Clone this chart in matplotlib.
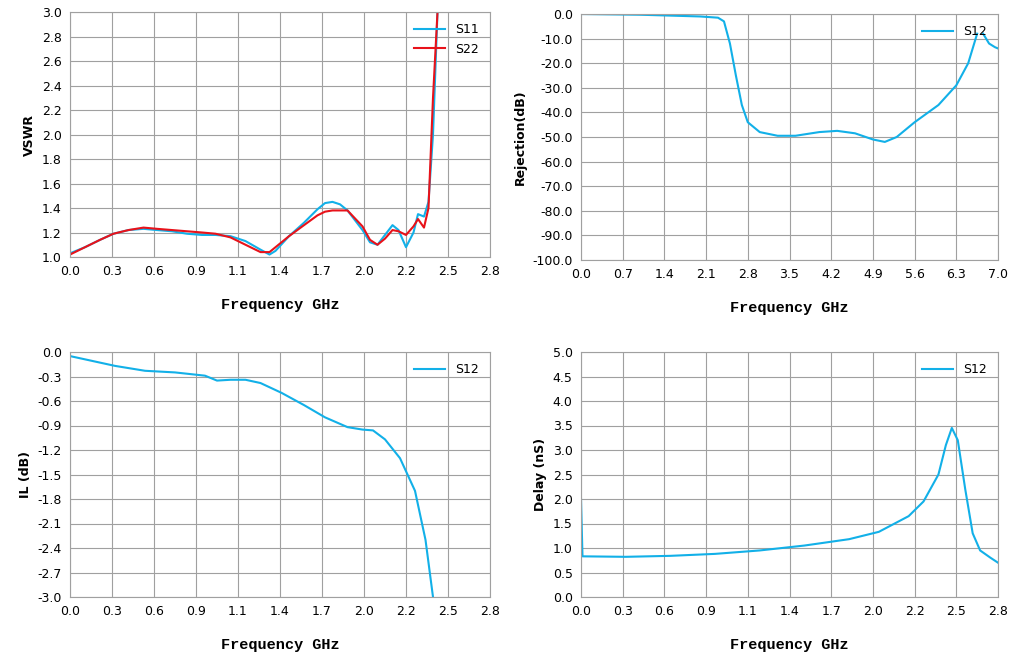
import numpy as np
import matplotlib
matplotlib.use("Agg")
import matplotlib.pyplot as plt

# VSWR
f_vswr = [0, 0.1, 0.2, 0.29, 0.39, 0.49, 0.58, 0.68, 0.78, 0.88, 0.97, 1.07, 1.17, 1.27, 1.33, 1.37, 1.46, 1.56,
          1.65, 1.7, 1.75, 1.8, 1.85, 1.95, 2.0, 2.05, 2.1, 2.15, 2.19, 2.24, 2.29, 2.32, 2.36, 2.39, 2.42, 2.45]
s11 = [1.03, 1.08, 1.14, 1.19, 1.22, 1.23, 1.22, 1.21, 1.19, 1.18, 1.18, 1.17, 1.13, 1.06, 1.02, 1.05, 1.17, 1.28,
       1.39, 1.44, 1.45, 1.43, 1.38, 1.22, 1.12, 1.10, 1.18, 1.26, 1.22, 1.08, 1.20, 1.35, 1.33, 1.45, 2.0, 3.0]
s22 = [1.02, 1.08, 1.14, 1.19, 1.22, 1.24, 1.23, 1.22, 1.21, 1.20, 1.19, 1.16, 1.10, 1.04, 1.04, 1.08, 1.17, 1.26,
       1.34, 1.37, 1.38, 1.38, 1.38, 1.25, 1.14, 1.10, 1.15, 1.22, 1.21, 1.18, 1.25, 1.31, 1.24, 1.40, 2.3, 3.0]

# Rejection
f_rej = [0, 1.0, 2.0, 2.3, 2.4, 2.5, 2.6, 2.7, 2.8, 3.0, 3.3, 3.6, 4.0, 4.3, 4.6, 4.9, 5.1, 5.3, 5.6, 6.0, 6.3,
         6.5, 6.6, 6.65]
rej = [0, -0.3, -1, -1.5, -3, -12, -25, -37, -44, -48, -49.5, -49.5, -48, -47.5, -48.5, -51, -52, -50, -44, -37,
       -29, -20, -12, -8]
f_rej2 = [6.75, 6.85, 6.95, 7.0]
rej2 = [-8, -12, -13.5, -14]

# Insertion loss
f_il = [0, 0.3, 0.5, 0.7, 0.9, 0.98, 1.07, 1.17, 1.27, 1.41, 1.56, 1.7, 1.85, 1.95, 2.02, 2.1, 2.2, 2.3, 2.37, 2.42]
il = [-0.05, -0.17, -0.23, -0.25, -0.29, -0.35, -0.34, -0.34, -0.38, -0.5, -0.65, -0.8, -0.92, -0.95, -0.96,
      -1.07, -1.3, -1.7, -2.3, -3.0]

# Group delay
f_dl = [0, 0.01, 0.3, 0.6, 0.9, 1.2, 1.5, 1.8, 2.0, 2.2, 2.3, 2.4, 2.45, 2.49, 2.53, 2.58, 2.63, 2.68, 2.75, 2.8]
delay = [2.0, 0.83, 0.82, 0.84, 0.88, 0.95, 1.05, 1.18, 1.33, 1.65, 1.95, 2.5, 3.1, 3.45, 3.2, 2.2, 1.3, 0.95,
         0.8, 0.7]

ticks28 = np.linspace(0, 2.8, 11)
labels28 = ["0.0", "0.3", "0.6", "0.9", "1.1", "1.4", "1.7", "2.0", "2.2", "2.5", "2.8"]
ticks7 = np.linspace(0, 7, 11)

cyan = "#12b0e8"
red = "#e8121a"
xfont = dict(family="Liberation Mono", weight="bold", size=11)
yfont = dict(family="DejaVu Sans", weight="bold", size=9)

fig = plt.figure(figsize=(10.15, 6.71), dpi=100)
ax1 = fig.add_axes([70/1015, 1-257/671, 420/1015, 245/671])
ax2 = fig.add_axes([581/1015, 1-260/671, 417/1015, 246/671])
ax3 = fig.add_axes([70/1015, 1-597/671, 420/1015, 245/671])
ax4 = fig.add_axes([581/1015, 1-597/671, 417/1015, 245/671])

ax1.plot(f_vswr, s11, color=cyan, lw=1.5, label="S11")
ax1.plot(f_vswr, s22, color=red, lw=1.5, label="S22")
ax1.set_ylim(1.0, 3.0)
ax1.set_yticks(np.arange(1.0, 3.01, 0.2))
ax1.set_ylabel("VSWR", **yfont)

ax2.plot(f_rej, rej, color=cyan, lw=1.5, label="S12")
ax2.plot(f_rej2, rej2, color=cyan, lw=1.5)
ax2.set_xlim(0, 7)
ax2.set_xticks(ticks7)
ax2.set_xticklabels(["%.1f" % t for t in ticks7])
ax2.set_ylim(-100, 0)
ytk = np.arange(-100, 1, 10)
ax2.set_yticks(ytk)
ax2.set_yticklabels(["%.1f" % v + "" if v != 0 else "0.0" for v in ytk])
ax2.set_ylabel("Rejection(dB)", **yfont)

ax3.plot(f_il, il, color=cyan, lw=1.5, label="S12")
ax3.set_ylim(-3.0, 0)
iltk = np.round(np.arange(-3.0, 0.01, 0.3), 1)
ax3.set_yticks(iltk)
ax3.set_yticklabels(["%.1f" % abs(v) if abs(v) < 1e-9 else "%.1f" % v for v in iltk])
ax3.set_ylabel("IL (dB)", **yfont)

ax4.plot(f_dl, delay, color=cyan, lw=1.5, label="S12")
ax4.set_ylim(0, 5)
ax4.set_yticks(np.arange(0, 5.01, 0.5))
ax4.set_ylabel("Delay (nS)", **yfont)

for ax in (ax1, ax3, ax4):
    ax.set_xlim(0, 2.8)
    ax.set_xticks(ticks28)
    ax.set_xticklabels(labels28)

for ax in (ax1, ax2, ax3, ax4):
    ax.grid(True, color="#a0a0a0", lw=0.8)
    ax.set_axisbelow(True)
    for s in ax.spines.values():
        s.set_color("#a0a0a0")
    ax.tick_params(length=0, labelsize=9, pad=6)
    ax.set_xlabel("Frequency GHz", labelpad=14, **xfont)
    leg = ax.legend(loc="upper right", frameon=False, fontsize=9, handlelength=2.5)

fig.savefig("out.png", dpi=100)
